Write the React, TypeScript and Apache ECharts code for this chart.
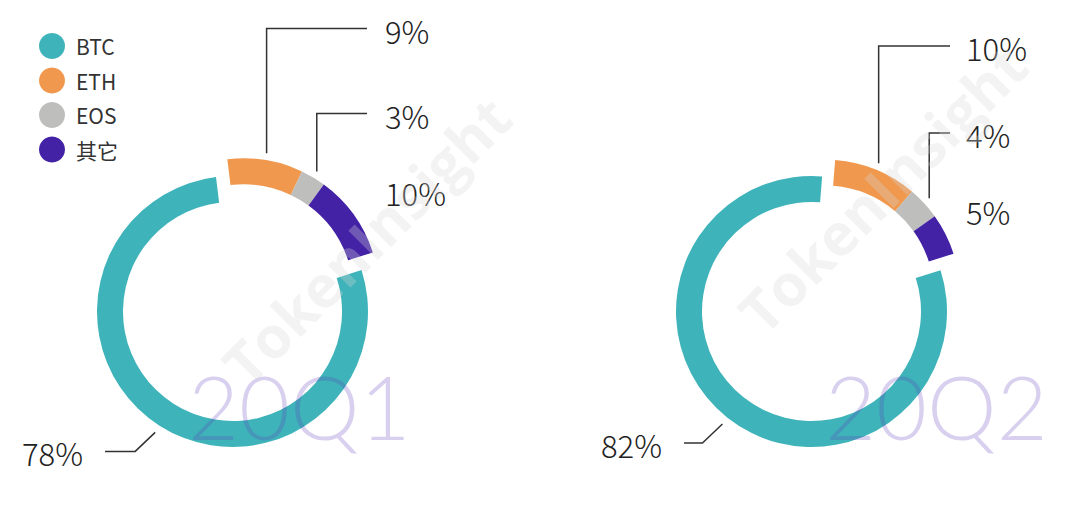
import React, { useEffect, useRef } from 'react';
import * as echarts from 'echarts';

// ---- data ----
const categories = ['BTC', 'ETH', 'EOS', '其它'];
const q1Values = [78, 9, 3, 10];
const q2Values = [82, 10, 4, 5];
const quarterLabels = ['20Q1', '20Q2'];
const colors = ['#3EB3BA', '#F0994E', '#BEBEBC', '#4422A6'];

const FONT = "'Noto Sans CJK SC', 'Noto Sans', sans-serif";

// ---- layout (positions / styles only) ----
const layouts = [
  {
    cx: 232.5, cy: 311.5, startAngle: 97, explode: 21,
    quarterX: 188,
    eth: { lineY: 28.5, endX: 367, labelX: 385 },
    eos: { lineY: 113.5, endX: 367, labelX: 385 },
    other: { labelX: 385, labelY: 192 },
    btc: { endX: 105 },
  },
  {
    cx: 811.5, cy: 311.5, startAngle: 85.5, explode: 21,
    quarterX: 825,
    eth: { lineY: 46, endX: 950, labelX: 966 },
    eos: { lineY: 133, endX: 950, labelX: 966 },
    other: { labelX: 966, labelY: 211 },
    btc: { endX: 684 },
  },
];

const R_OUT = 135.5;
const R_IN = 109.5;

function dirOf(pts: number[][]) {
  const dx = pts[1][0] - pts[0][0];
  const dy = pts[1][1] - pts[0][1];
  const len = Math.hypot(dx, dy) || 1;
  return [dx / len, dy / len];
}

function buildSeries(values: number[], lay: any) {
  const total = values.reduce((a, b) => a + b, 0);
  const othersSum = values.slice(1).reduce((a, b) => a + b, 0);
  const midDeg = lay.startAngle - (othersSum / total) * 360 / 2;
  const rad = (midDeg * Math.PI) / 180;
  const ocx = lay.cx + lay.explode * Math.cos(rad);
  const ocy = lay.cy - lay.explode * Math.sin(rad);

  const labelStyle = {
    show: true,
    position: 'outside',
    formatter: '{c}%',
    fontSize: 31,
    fontWeight: 300,
    color: '#222',
    fontFamily: FONT,
  };
  const lineStyle = { color: '#333', width: 1.5 };
  const hidden = {
    name: '',
    itemStyle: { color: 'rgba(0,0,0,0)' },
    label: { show: false },
    labelLine: { show: false },
  };

  const seriesA = {
    type: 'pie',
    center: [lay.cx, lay.cy],
    radius: [R_IN, R_OUT],
    startAngle: lay.startAngle,
    clockwise: true,
    avoidLabelOverlap: false,
    silent: true,
    label: labelStyle,
    labelLine: { show: true, length: 10, length2: 10, lineStyle },
    data: [
      { ...hidden, value: othersSum },
      { name: categories[0], value: values[0], itemStyle: { color: colors[0] } },
    ],
    labelLayout: (p: any) => {
      if (p.dataIndex !== 1 || !p.labelLinePoints) return {};
      const pts = p.labelLinePoints;
      const d = dirOf(pts);
      const sx = pts[0][0] + d[0] * 8;
      const sy = pts[0][1] + d[1] * 8;
      const kx = sx - 20;
      const ky = sy + 19;
      return {
        x: lay.btc.endX - 22,
        y: ky + 1,
        align: 'right',
        verticalAlign: 'middle',
        labelLinePoints: [[sx, sy], [kx, ky], [lay.btc.endX, ky]],
      };
    },
  };

  const seriesB = {
    type: 'pie',
    center: [ocx, ocy],
    radius: [R_IN, R_OUT],
    startAngle: lay.startAngle,
    clockwise: true,
    avoidLabelOverlap: false,
    silent: true,
    label: labelStyle,
    labelLine: { show: true, length: 10, length2: 10, lineStyle },
    data: [
      { name: categories[1], value: values[1], itemStyle: { color: colors[1] } },
      { name: categories[2], value: values[2], itemStyle: { color: colors[2] } },
      { name: categories[3], value: values[3], itemStyle: { color: colors[3] }, labelLine: { show: false } },
      { ...hidden, value: values[0] },
    ],
    labelLayout: (p: any) => {
      const i = p.dataIndex;
      if (i === 2) {
        return { x: lay.other.labelX, y: lay.other.labelY, align: 'left', verticalAlign: 'middle' };
      }
      if ((i === 0 || i === 1) && p.labelLinePoints) {
        const cfg = i === 0 ? lay.eth : lay.eos;
        const pts = p.labelLinePoints;
        const d = dirOf(pts);
        const sx = pts[0][0] + d[0] * 7;
        const sy = pts[0][1] + d[1] * 7;
        return {
          x: cfg.labelX,
          y: cfg.lineY + 1.5,
          align: 'left',
          verticalAlign: 'middle',
          labelLinePoints: [[sx, sy], [sx, cfg.lineY], [cfg.endX, cfg.lineY]],
        };
      }
      return {};
    },
  };
  return [seriesA, seriesB];
}

export default function App() {
  const ref = useRef<HTMLDivElement>(null);
  useEffect(() => {
    if (!ref.current) return;
    const chart = echarts.init(ref.current, null, { renderer: 'svg' });
    const series = [
      ...buildSeries(q1Values, layouts[0]),
      ...buildSeries(q2Values, layouts[1]),
    ];
    const wm = (x: number, y: number) => ({
      type: 'text', x, y, rotation: Math.PI / 4, z: 21, silent: true,
      style: {
        text: 'TokenInsight', fontSize: 58, fontWeight: 'bold', fontFamily: "'Open Sans', sans-serif",
        fill: 'rgba(215,215,215,0.3)', align: 'center', verticalAlign: 'middle',
      },
    });
    const option = {
      animation: false,
      backgroundColor: '#ffffff',
      legend: {
        data: categories,
        orient: 'vertical',
        left: 34,
        top: 28,
        itemWidth: 26,
        itemHeight: 26,
        itemGap: 8.5,
        icon: 'circle',
        selectedMode: false,
        textStyle: { fontSize: 21, color: '#333', fontFamily: FONT, padding: [0, 0, 0, 6] },
      },
      graphic: [
        ...quarterLabels.map((q, i) => ({
          type: 'text',
          x: layouts[i].quarterX,
          y: 406,
          z: 20,
          silent: true,
          style: {
            text: q,
            fontSize: 88,
            fontWeight: 300,
            fontFamily: 'Lato, sans-serif',
            fill: 'rgba(90, 60, 185, 0.24)',
            align: 'left',
            verticalAlign: 'middle',
          },
        })),
        wm(366, 240),
        wm(882, 188),
      ],
      series,
    };
    chart.setOption(option as any);
    return () => chart.dispose();
  }, []);
  return (
    <div
      ref={ref}
      style={{ position: 'fixed', left: 0, top: 0, width: 1080, height: 505, background: '#fff' }}
    />
  );
}
